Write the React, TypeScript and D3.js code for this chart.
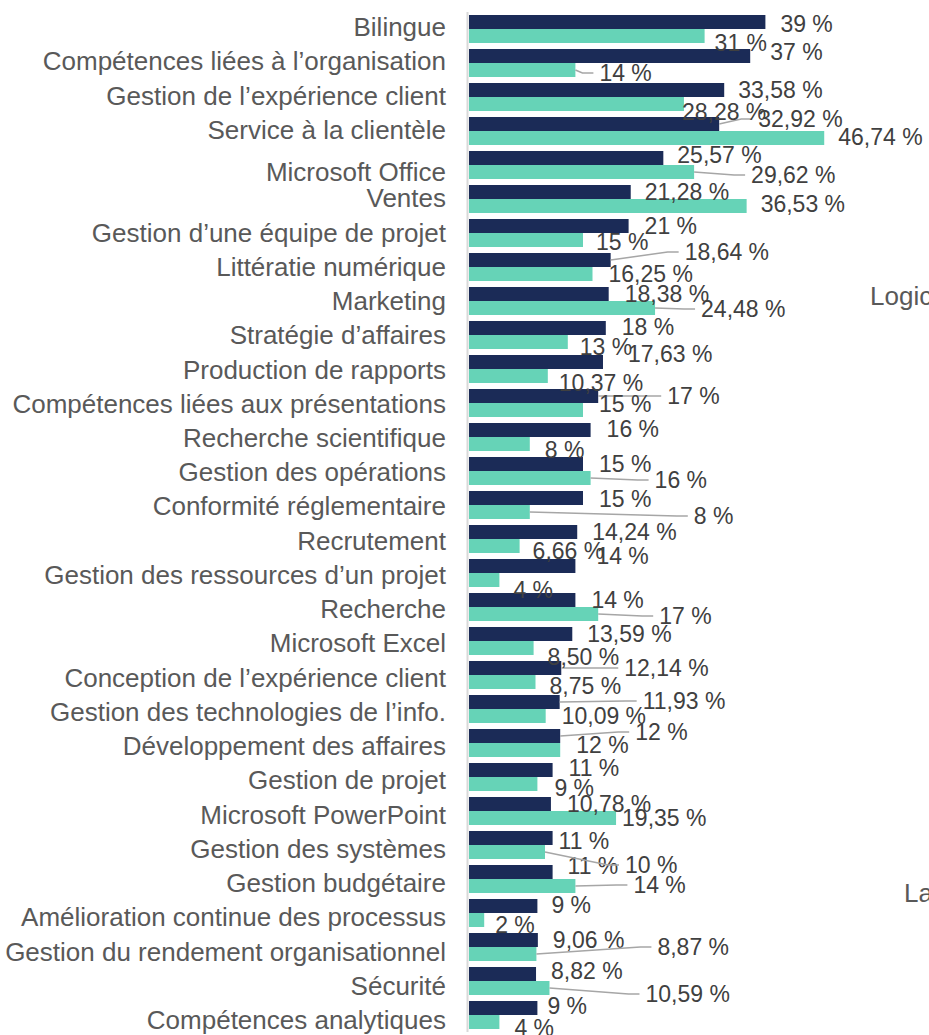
import React, { useEffect, useRef } from 'react';
import * as d3 from 'd3';

const categories = [
  'Bilingue',
  'Compétences liées à l’organisation',
  'Gestion de l’expérience client',
  'Service à la clientèle',
  'Microsoft Office',
  'Ventes',
  'Gestion d’une équipe de projet',
  'Littératie numérique',
  'Marketing',
  'Stratégie d’affaires',
  'Production de rapports',
  'Compétences liées aux présentations',
  'Recherche scientifique',
  'Gestion des opérations',
  'Conformité réglementaire',
  'Recrutement',
  'Gestion des ressources d’un projet',
  'Recherche',
  'Microsoft Excel',
  'Conception de l’expérience client',
  'Gestion des technologies de l’info.',
  'Développement des affaires',
  'Gestion de projet',
  'Microsoft PowerPoint',
  'Gestion des systèmes',
  'Gestion budgétaire',
  'Amélioration continue des processus',
  'Gestion du rendement organisationnel',
  'Sécurité',
  'Compétences analytiques',
];

// dark series
const serieFoncee = [
  39, 37, 33.58, 32.92, 25.57, 21.28, 21, 18.64, 18.38, 18, 17.63, 17, 16, 15, 15,
  14.24, 14, 14, 13.59, 12.14, 11.93, 12, 11, 10.78, 11, 11, 9, 9.06, 8.82, 9,
];

// light series
const serieClaire = [
  31, 14, 28.28, 46.74, 29.62, 36.53, 15, 16.25, 24.48, 13, 10.37, 15, 8, 16, 8,
  6.66, 4, 17, 8.5, 8.75, 10.09, 12, 9, 19.35, 10, 14, 2, 8.87, 10.59, 4,
];

// where each data label was dragged to: [dx from bar end, dy from bar centre, leader line]
const darkLabelShift = [
  [16, 2, 0], [21, -4, 0], [15, 0, 0], [40, -5, 1], [15, -3, 0], [15, 0, 0],
  [17, 0, 0], [75, -8, 1], [17, 0, 0], [17, -1, 0], [26, -8, 0], [70, 0, 1],
  [17, -1, 0], [17, 0, 0], [17, 1, 0], [16, 0, 0], [22, -10, 0], [17, 0, 0],
  [16, 0, 0], [64, 0, 1], [84, -1, 1], [76, -4, 1], [17, -2, 0], [17, 0, 0],
  [7, 3, 0], [16, -6, 0], [15, -1, 0], [16, 0, 0], [16, -3, 0], [11, -2, 0],
];
const lightLabelShift = [
  [11, 7, 0], [25, 3, 1], [-1, 8, 0], [15, -1, 0], [58, 3, 1], [15, -2, 0],
  [14, 2, 0], [17, 0, 0], [47, 1, 1], [13, 5, 0], [12, 7, 0], [17, -6, 0],
  [16, 6, 0], [65, 2, 1], [165, 4, 1], [14, 5, 0], [15, 10, 0], [62, 2, 1],
  [15, 9, 0], [15, 4, 0], [17, 0, 0], [17, -5, 0], [18, 4, 0], [7, 0, 0],
  [81, 13, 1], [59, -1, 1], [12, 5, 0], [122, -7, 1], [97, 6, 1], [16, 6, 0],
];

// category labels that sit off their row
const categoryNudge = { 'Microsoft Office': 8 };

const W = 929;
const H = 1035;

const fmt = (v) =>
  Number.isInteger(v) ? `${v} %` : `${v.toFixed(2).replace('.', ',')} %`;

const SkillsChart = () => {
  const svgRef = useRef();

  useEffect(() => {
    const svg = d3.select(svgRef.current);
    svg.selectAll('*').remove();

    const x = d3.scaleLinear().domain([0, 50]).range([469, 849]);

    const y = d3.scaleBand()
      .domain(categories)
      .range([12, 1032])
      .paddingInner(6 / 34)
      .paddingOuter(3 / 34);

    const sub = d3.scaleBand()
      .domain(['foncee', 'claire'])
      .range([0, y.bandwidth()]);

    // labels on the left are spread a bit differently from the bars
    const yLabel = d3.scalePoint().domain(categories).range([27, 1020]);

    const series = [
      { key: 'foncee', values: serieFoncee, color: '#1b2b57', shift: darkLabelShift },
      { key: 'claire', values: serieClaire, color: '#66d3b7', shift: lightLabelShift },
    ];

    // bars
    series.forEach(s => {
      svg.append('g')
        .selectAll('rect')
        .data(categories)
        .join('rect')
        .attr('x', x(0))
        .attr('y', d => y(d) + sub(s.key))
        .attr('width', (d, i) => x(s.values[i]) - x(0))
        .attr('height', sub.bandwidth())
        .attr('fill', s.color);
    });

    // vertical axis line
    svg.append('line')
      .attr('x1', 467.5)
      .attr('x2', 467.5)
      .attr('y1', 12)
      .attr('y2', 1032)
      .attr('stroke', '#d9d9d9')
      .attr('stroke-width', 2);

    // category labels
    svg.append('g')
      .selectAll('text')
      .data(categories)
      .join('text')
      .attr('x', 446)
      .attr('y', d => yLabel(d) + (categoryNudge[d] || 0))
      .attr('dy', '0.35em')
      .attr('text-anchor', 'end')
      .style('font-family', '"Liberation Sans", Arial, sans-serif')
      .style('font-size', '26px')
      .style('fill', '#595959')
      .text(d => d);

    // data labels + leader lines
    series.forEach(s => {
      const g = svg.append('g');
      categories.forEach((c, i) => {
        const v = s.values[i];
        const [dx, dy, leader] = s.shift[i];
        const x0 = x(v);
        const y0 = y(c) + sub(s.key) + sub.bandwidth() / 2;
        const tx = x0 + dx;
        const ty = y0 + dy;

        if (leader) {
          g.append('path')
            .attr('d', d3.line()([[x0, y0], [tx - 18, ty], [tx - 7, ty]]))
            .attr('fill', 'none')
            .attr('stroke', '#a6a6a6')
            .attr('stroke-width', 1.5);
        }

        g.append('text')
          .attr('x', tx - 1)
          .attr('y', ty)
          .attr('dy', '0.35em')
          .style('font-family', '"Liberation Sans", Arial, sans-serif')
          .style('font-size', '23px')
          .style('fill', '#404040')
          .text(fmt(v));
      });
    });

    // legend entries from the neighbouring chart, cut by the edge
    svg.append('text')
      .attr('x', 870)
      .attr('y', 305)
      .style('font-family', '"Liberation Sans", Arial, sans-serif')
      .style('font-size', '26px')
      .style('fill', '#595959')
      .text('Logiciels');

    svg.append('text')
      .attr('x', 904)
      .attr('y', 902)
      .style('font-family', '"Liberation Sans", Arial, sans-serif')
      .style('font-size', '26px')
      .style('fill', '#595959')
      .text('La');
  }, []);

  return (
    <svg
      ref={svgRef}
      width={W}
      height={H}
      style={{ position: 'absolute', left: 0, top: 0, background: '#fff' }}
    />
  );
};

export default function App() {
  return <SkillsChart />;
}
